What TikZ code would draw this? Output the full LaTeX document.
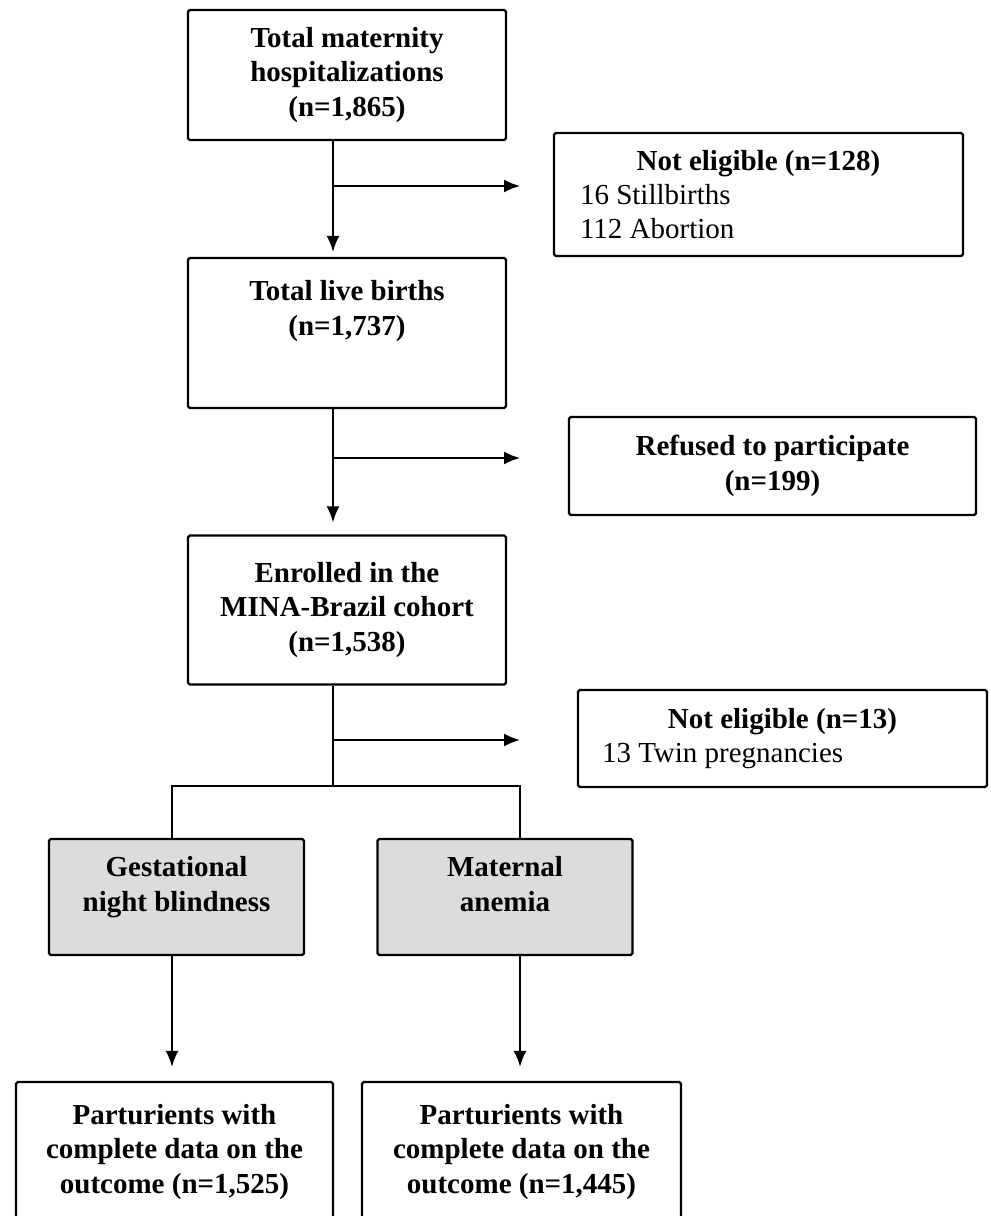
\documentclass[tikz,border=0pt]{standalone}
\usepackage{fontspec}
\setmainfont{Liberation Serif}
\usetikzlibrary{arrows.meta,positioning,calc}

\definecolor{boxgrey}{HTML}{DCDCDC}

\tikzset{
  box/.style={draw, rounded corners=1pt, line width=1.3pt, align=center, inner sep=0pt,
    font=\bfseries\fontsize{16.5}{19.5}\selectfont},
  greybox/.style={box, fill=boxgrey, minimum width=5.1cm, minimum height=2.32cm, text depth=0.52cm},
  exbox/.style={draw, rounded corners=1pt, line width=1.3pt, align=left, inner ysep=0pt,
    font=\fontsize{16.5}{19.5}\selectfont}
}

\begin{document}
\begin{tikzpicture}[x=0.02cm, y=-0.02cm, >={Latex[length=3.2mm,width=2.6mm]}, line width=1.1pt]

  \useasboundingbox (0,0) rectangle (990,1216);
  \clip (0,0) rectangle (990,1216);

  \node[box, minimum width=6.36cm, minimum height=2.6cm] (total) at (347,75) {Total maternity\\hospitalizations\\(n=1,865)};
  \node[box, minimum width=6.36cm, minimum height=3cm, text depth=1cm] (births) at (347,333) {Total live births\\(n=1,737)};
  \node[box, minimum width=6.36cm, minimum height=2.98cm] (enrolled) at (347,610) {Enrolled in the\\MINA-Brazil cohort\\(n=1,538)};

  \node[exbox, inner xsep=0.52cm, minimum height=2.46cm] (excl1) at (758.5,194.5) {\makebox[7.14cm]{\bfseries Not eligible (n=128)}\\16 Stillbirths\\112 Abortion};
  \node[box, minimum width=8.14cm, minimum height=1.96cm] (refused) at (772.5,466) {Refused to participate\\(n=199)};
  \node[exbox, inner xsep=0.48cm, minimum height=1.94cm] (excl2) at (782.5,738.5) {\makebox[7.22cm]{\bfseries Not eligible (n=13)}\\13 Twin pregnancies};

  \node[greybox] (blind) at (176.5,897) {Gestational\\night blindness};
  \node[greybox] (anemia) at (505,897) {Maternal\\anemia};

  \node[box, minimum width=6.34cm, minimum height=2.8cm] (outblind) at (174.5,1152) {Parturients with\\complete data on the\\outcome (n=1,525)};
  \node[box, minimum width=6.38cm, minimum height=2.8cm] (outanemia) at (521.5,1152) {Parturients with\\complete data on the\\outcome (n=1,445)};

  \coordinate (trunk) at (333,0);
  \coordinate (lb) at (172,0);
  \coordinate (rb) at (520,0);
  \coordinate (split) at (333,786);

  \draw[->, shorten >=0.1cm] (total.south -| trunk) -- (births.north -| trunk);
  \draw[->, shorten >=0.24cm] (births.south -| trunk) -- (enrolled.north -| trunk);
  \draw (enrolled.south -| trunk) -- (split);
  \draw (blind.north -| lb) |- (split) -| (anemia.north -| rb);

  \foreach \j/\y in {1/186,2/458,3/740}{
    \coordinate (j\j) at (333,\y);
    \draw[->] (j\j) -- (j\j -| rb);
  }

  \draw[->, shorten >=0.28cm] (blind.south -| lb) -- (outblind.north -| lb);
  \draw[->, shorten >=0.28cm] (anemia.south -| rb) -- (outanemia.north -| rb);

\end{tikzpicture}
\end{document}
